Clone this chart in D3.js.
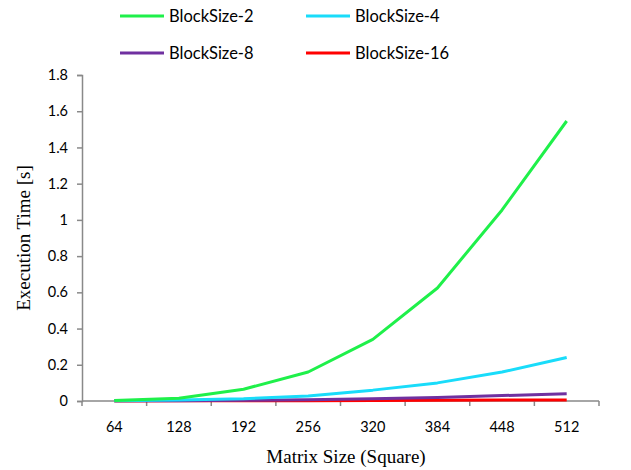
<!DOCTYPE html>
<html><head><meta charset="utf-8">
<script src="https://cdn.jsdelivr.net/npm/d3@7"></script>
<style>body{margin:0;background:#fff}</style>
</head><body>
<svg id="c" width="631" height="470"></svg>
<script>
const categories = ["64","128","192","256","320","384","448","512"];
const seriesNames = ["BlockSize-2","BlockSize-4","BlockSize-8","BlockSize-16"];
const bs2  = [0.003,0.015,0.065,0.16,0.34,0.624,1.055,1.546];
const bs4  = [0.002,0.005,0.012,0.028,0.06,0.10,0.16,0.24];
const bs8  = [0.001,0.002,0.004,0.007,0.012,0.02,0.03,0.04];
const bs16 = [0.0005,0.001,0.001,0.002,0.003,0.004,0.005,0.006];
const yTicks = [0,0.2,0.4,0.6,0.8,1,1.2,1.4,1.6,1.8];
const colors = ["#1ff04a","#19dcfa","#7030a0","#ff0000"];
const series = [bs2,bs4,bs8,bs16];

(function(){
const svg = d3.select("#c");
const mLeft = 82, mRight = 599, mTop = 75, mBottom = 401;
const x = d3.scaleBand().domain(categories).range([mLeft,mRight]);
const y = d3.scaleLinear().domain([0,1.8]).range([mBottom,mTop]);
const axisColor = "#898989";
const tickFont = "Lato, 'Open Sans', sans-serif";

// y axis
const ya = svg.append("g").attr("transform",`translate(${mLeft},0)`)
  .call(d3.axisLeft(y).tickValues(yTicks).tickSize(5).tickPadding(9).tickFormat(d=>String(d)));
ya.select(".domain").attr("stroke",axisColor).attr("stroke-width",1.5);
ya.selectAll(".tick line").attr("stroke",axisColor).attr("stroke-width",1.5);
ya.selectAll(".tick text").attr("font-family",tickFont).attr("font-size",14.5).attr("fill","#000");

// x axis
const xa = svg.append("g").attr("transform",`translate(0,${mBottom})`);
xa.append("line").attr("x1",mLeft).attr("x2",mRight).attr("y1",0).attr("y2",0)
  .attr("stroke",axisColor).attr("stroke-width",1.5);
const bounds = categories.map(c=>x(c)).concat([mRight]);
xa.selectAll("line.tk").data(bounds).enter().append("line").attr("class","tk")
  .attr("x1",d=>d).attr("x2",d=>d).attr("y1",0).attr("y2",5)
  .attr("stroke",axisColor).attr("stroke-width",1.5);
xa.selectAll("text").data(categories).enter().append("text")
  .attr("x",d=>x(d)+x.bandwidth()/2).attr("y",31)
  .attr("text-anchor","middle").attr("font-family",tickFont).attr("font-size",14.5).text(d=>d);

// axis titles
svg.append("text").attr("x",346).attr("y",463).attr("text-anchor","middle")
  .attr("font-family","'Liberation Serif', serif").attr("font-size",19).text("Matrix Size (Square)");
svg.append("text").attr("transform","translate(30,238) rotate(-90)").attr("text-anchor","middle")
  .attr("font-family","'Liberation Serif', serif").attr("font-size",19).text("Execution Time [s]");

// lines
const line = d3.line().x((d,i)=>x(categories[i])+x.bandwidth()/2).y(d=>y(d));
[3,2,1,0].forEach(k=>{
  svg.append("path").datum(series[k]).attr("d",line).attr("fill","none")
    .attr("stroke",colors[k]).attr("stroke-width",3).attr("stroke-linejoin","round");
});

// legend
const legPos = [[120,16],[306,16],[120,53],[306,53]];
seriesNames.forEach((n,i)=>{
  const [lx,ly] = legPos[i];
  svg.append("line").attr("x1",lx).attr("x2",lx+44).attr("y1",ly).attr("y2",ly)
    .attr("stroke",colors[i]).attr("stroke-width",3);
  svg.append("text").attr("x",lx+49).attr("y",ly+6).attr("font-family",tickFont)
    .attr("font-size",16.5).text(n);
});
})();
</script>
</body></html>
